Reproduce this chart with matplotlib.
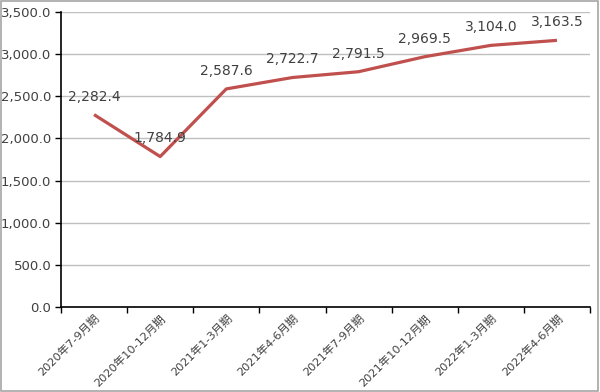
import matplotlib.pyplot as plt
from matplotlib.patches import Rectangle
import numpy as np

plt.rcParams['font.family'] = ['DejaVu Sans', 'Noto Sans CJK JP']

periods = ['2020年7-9月期', '2020年10-12月期', '2021年1-3月期', '2021年4-6月期',
           '2021年7-9月期', '2021年10-12月期', '2022年1-3月期', '2022年4-6月期']
values = [2282.4, 1784.9, 2587.6, 2722.7, 2791.5, 2969.5, 3104.0, 3163.5]

fig = plt.figure(figsize=(6, 3.92), dpi=100)
ax = fig.add_axes([61 / 600, 1 - 307 / 392, 529 / 600, 295 / 392])

x = np.arange(len(values)) + 0.5
ax.plot(x, values, color='#C0504D', lw=2.3, solid_capstyle='butt', zorder=3)

for xi, v in zip(x, values):
    ax.annotate(f'{v:,.1f}', (xi, v), xytext=(0, 8), textcoords='offset points',
                ha='center', va='bottom', fontsize=10, color='#404040', zorder=4)

ax.set_xlim(0, len(values))
ax.set_ylim(0, 3500)
ax.set_yticks(np.arange(0, 3501, 500))
ax.set_yticklabels([f'{t:,.1f}' for t in np.arange(0, 3501, 500)], fontsize=9.5, color='#404040')
ax.yaxis.grid(True, color='#BFBFBF', lw=1)
ax.set_axisbelow(True)

ax.set_xticks(x)
ax.set_xticklabels(periods, rotation=45, ha='right', rotation_mode='anchor',
                   fontsize=8.2, color='#404040')
ax.tick_params(axis='x', which='major', length=0, pad=4)
ax.set_xticks(np.arange(0, len(values) + 1), minor=True)
ax.tick_params(axis='x', which='minor', length=4, width=1, color='black')
ax.tick_params(axis='y', length=4, width=1, color='black', pad=3)

for s in ['top', 'right']:
    ax.spines[s].set_visible(False)
for s in ['left', 'bottom']:
    ax.spines[s].set_color('black')
    ax.spines[s].set_linewidth(1.2)

fig.patches.append(Rectangle((0.002, 0.003), 0.995, 0.994, transform=fig.transFigure,
                             fill=False, edgecolor='#A6A6A6', lw=1.2))

fig.savefig('out.png', dpi=100)
